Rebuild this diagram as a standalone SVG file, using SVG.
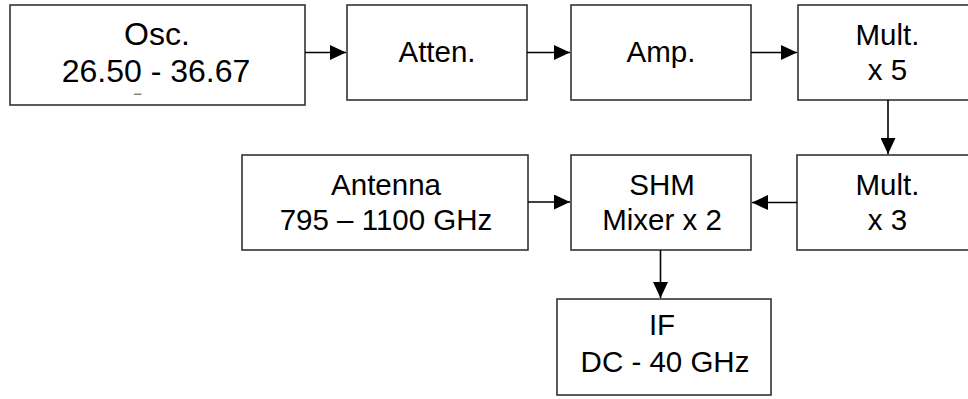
<svg xmlns="http://www.w3.org/2000/svg" width="968" height="399" viewBox="0 0 968 399">
<defs>
<marker id="ah" markerUnits="userSpaceOnUse" markerWidth="16" markerHeight="15" refX="16" refY="7.5" orient="auto">
<path d="M0,0 L16,7.5 L0,15 z" fill="#000"/>
</marker>
<style>
.box{fill:#fff;stroke:#333;stroke-width:1.6}
.t{font-family:"Liberation Sans",Arial,sans-serif;font-size:29.5px;fill:#000;text-anchor:middle}
.big{font-size:32px}
.c{stroke:#000;stroke-width:1.6;fill:none;marker-end:url(#ah)}
</style>
</defs>
<rect width="968" height="399" fill="#fff"/>
<g id="osc">
<rect class="box" x="10" y="5" width="295" height="100"/>
<text class="t big" x="157" y="45">Osc.</text>
<text class="t big" x="156" y="82">26.50 - 36.67</text>
<rect x="134" y="93.6" width="7.5" height="1.2" fill="#666"/>
</g>
<g id="atten">
<rect class="box" x="347" y="5" width="180" height="95"/>
<text class="t" x="437" y="62">Atten.</text>
</g>
<g id="amp">
<rect class="box" x="571" y="5" width="180" height="95"/>
<text class="t" x="661" y="62">Amp.</text>
</g>
<g id="mult5">
<rect class="box" x="798" y="5" width="190" height="95"/>
<text class="t" x="887.5" y="45">Mult.</text>
<text class="t" x="887.5" y="80">x 5</text>
</g>
<g id="antenna">
<rect class="box" x="242" y="155" width="286" height="95"/>
<text class="t" x="386" y="195">Antenna</text>
<text class="t" x="386" y="230">795 – 1100 GHz</text>
</g>
<g id="shm">
<rect class="box" x="571" y="155" width="180" height="95"/>
<text class="t" x="662" y="195">SHM</text>
<text class="t" x="662" y="230">Mixer x 2</text>
</g>
<g id="mult3">
<rect class="box" x="797" y="155" width="190" height="95"/>
<text class="t" x="887.5" y="195">Mult.</text>
<text class="t" x="887.5" y="230">x 3</text>
</g>
<g id="if">
<rect class="box" x="557" y="299" width="214" height="96"/>
<text class="t" x="662" y="335">IF</text>
<text class="t" x="665" y="372">DC - 40 GHz</text>
</g>
<g id="connectors">
<line class="c" x1="305" y1="52.5" x2="346" y2="52.5"/>
<line class="c" x1="527" y1="52.5" x2="570" y2="52.5"/>
<line class="c" x1="751" y1="52.5" x2="797" y2="52.5"/>
<line class="c" x1="888" y1="100" x2="888" y2="154"/>
<line class="c" x1="528" y1="202" x2="570" y2="202"/>
<line class="c" x1="797" y1="202.5" x2="752" y2="202.5"/>
<line class="c" x1="660.5" y1="250" x2="660.5" y2="298"/>
</g>
</svg>
